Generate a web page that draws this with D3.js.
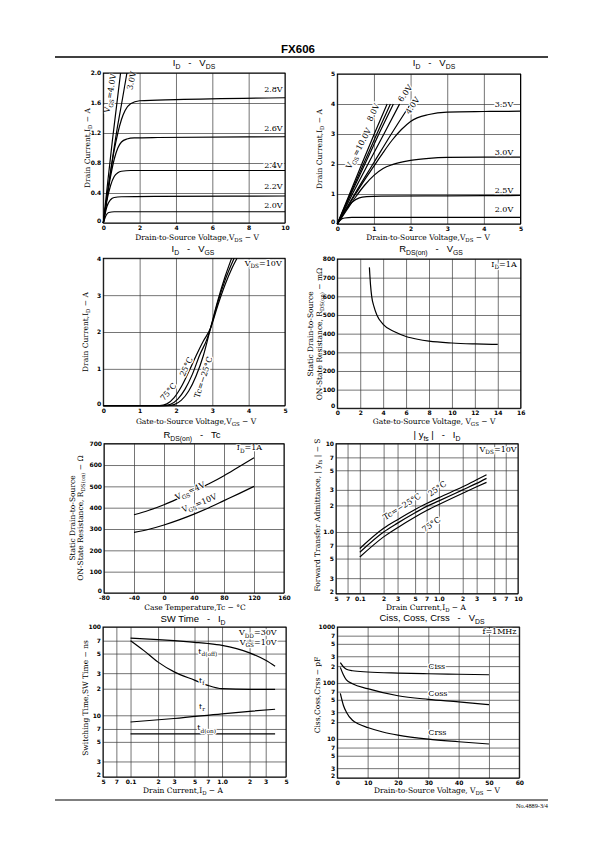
<!DOCTYPE html>
<html><head><meta charset="utf-8">
<script src="https://cdn.jsdelivr.net/npm/d3@7"></script>
<style>
body{margin:0;background:#fff;}
svg{display:block;}
.tk{font-family:"DejaVu Sans",sans-serif;font-weight:bold;font-size:6px;}
.ax{font-family:"DejaVu Serif",serif;font-size:7.5px;}
.ttl{font-family:"Liberation Sans",Arial,sans-serif;font-size:9.5px;}
.lbl{font-family:"DejaVu Serif",serif;font-size:8px;}
</style></head><body>
<svg id="page" width="595" height="842"></svg>
<script>
// ================= DATA =================
// Chart 1: ID - VDS (0-10 V)
const c1Vgs20 = [[0,0],[0.15,0.1],[0.3,0.14],[0.6,0.15],[10,0.15]];
const c1Vgs22 = [[0,0],[0.2,0.22],[0.4,0.31],[0.6,0.34],[1.0,0.35],[3,0.355],[10,0.36]];
const c1Vgs24 = [[0,0],[0.2,0.3],[0.4,0.5],[0.6,0.62],[0.8,0.67],[1.0,0.69],[1.5,0.7],[10,0.7]];
const c1Vgs26 = [[0,0],[0.2,0.33],[0.4,0.62],[0.6,0.85],[0.8,1.0],[1.0,1.08],[1.3,1.12],[1.7,1.135],[3,1.14],[10,1.15]];
const c1Vgs28 = [[0,0],[0.2,0.35],[0.4,0.68],[0.6,0.97],[0.8,1.2],[1.0,1.38],[1.2,1.5],[1.5,1.59],[2.0,1.63],[4,1.645],[10,1.67]];
const c1Vgs30 = [[0,0],[0.25,0.43],[0.5,0.85],[0.75,1.24],[1.0,1.58],[1.3,2.0]];
const c1Vgs40 = [[0,0],[0.25,0.56],[0.5,1.1],[0.75,1.6],[0.95,2.0]];
const c1XTicks = [0,2,4,6,8,10];
const c1XLabels = ["0","2","4","6","8","10"];
const c1YTicks = [0,0.4,0.8,1.2,1.6,2.0];
const c1YLabels = ["0","0.4","0.8","1.2","1.6","2.0"];

// Chart 2: ID - VDS (0-5 V)
const c2Vgs20 = [[0,0],[0.1,0.15],[0.2,0.2],[0.4,0.22],[5,0.22]];
const c2Vgs25 = [[0,0],[0.2,0.42],[0.4,0.72],[0.6,0.87],[0.8,0.91],[1.2,0.93],[3,0.94],[5,0.95]];
const c2Vgs30 = [[0,0],[0.25,0.45],[0.5,0.9],[0.75,1.3],[1.0,1.62],[1.25,1.85],[1.5,1.98],[2,2.12],[2.5,2.19],[3,2.22],[4,2.23],[5,2.23]];
const c2Vgs35 = [[0,0],[0.25,0.5],[0.5,1.0],[0.75,1.48],[1.0,1.93],[1.25,2.38],[1.5,2.8],[1.75,3.15],[2.0,3.42],[2.5,3.65],[3,3.73],[4,3.75],[5,3.76]];
const c2Vgs40 = [[0,0],[0.5,1.05],[1.0,2.05],[1.5,3.05],[2.0,4.0]];
const c2Vgs60 = [[0,0],[0.43,1.04],[0.86,2.05],[1.29,3.04],[1.70,4.0]];
const c2Vgs80 = [[0,0],[0.38,1.02],[0.77,2.04],[1.15,3.04],[1.53,4.0]];
const c2Vgs90 = [[0,0],[0.36,1.02],[0.73,2.04],[1.09,3.03],[1.45,4.0]];
const c2Vgs100 = [[0,0],[0.34,1.02],[0.68,2.03],[1.02,3.03],[1.36,4.0]];
const c2XTicks = [0,1,2,3,4,5];
const c2XLabels = ["0","1","2","3","4","5"];
const c2YTicks = [0,1,2,3,4,5];
const c2YLabels = ["0","1","2","3","4","5"];

// Chart 3: ID - VGS
const c3Tc75 = [[0,0],[1.55,0],[1.75,0.05],[1.95,0.22],[2.15,0.52],[2.35,0.92],[2.55,1.35],[2.75,1.75],[2.95,2.1],[3.15,2.72],[3.35,3.28],[3.55,3.75],[3.68,4.0]];
const c3Tc25 = [[0,0],[1.65,0],[1.85,0.04],[2.05,0.18],[2.25,0.45],[2.45,0.85],[2.65,1.37],[2.85,1.8],[2.95,2.1],[3.15,2.8],[3.35,3.4],[3.6,4.0]];
const c3TcM25 = [[0,0],[1.75,0],[1.95,0.03],[2.15,0.15],[2.35,0.4],[2.55,0.8],[2.75,1.35],[2.95,2.1],[3.15,2.85],[3.35,3.5],[3.53,4.0]];
const c3XTicks = [0,1,2,3,4,5];
const c3XLabels = ["0","1","2","3","4","5"];
const c3YTicks = [0,1,2,3,4];
const c3YLabels = ["0","1","2","3","4"];

// Chart 4: RDS(on) - VGS
const c4Rds = [[2.8,755],[2.9,660],[3.0,600],[3.2,545],[3.45,500],[4,450],[5,410],[6,385],[7,370],[8,360],[10,350],[12,345],[14,342]];
const c4XTicks = [0,2,4,6,8,10,12,14,16];
const c4XLabels = ["0","2","4","6","8","10","12","14","16"];
const c4YTicks = [0,100,200,300,400,500,600,700,800];
const c4YLabels = ["0","100","200","300","400","500","600","700","800"];

// Chart 5: RDS(on) - Tc
const c5Vgs4 = [[-40,367],[-20,388],[0,414],[20,445],[40,478],[60,512],[80,550],[100,592],[120,634]];
const c5Vgs10 = [[-40,284],[-20,299],[0,319],[20,343],[40,370],[60,400],[80,433],[100,466],[120,500]];
const c5XTicks = [-80,-40,0,40,80,120,160];
const c5XLabels = ["-80","-40","0","40","80","120","160"];
const c5YTicks = [0,100,200,300,400,500,600,700];
const c5YLabels = ["0","100","200","300","400","500","600","700"];

// Chart 6: |yfs| - ID
const c6TcM25 = [[0.1,0.65],[0.2,1.1],[0.3,1.38],[0.5,1.8],[0.7,2.1],[1.0,2.45],[2.0,3.25],[3.0,3.9],[4.0,4.45]];
const c6Tc25 = [[0.1,0.59],[0.2,1.0],[0.3,1.26],[0.5,1.65],[0.7,1.95],[1.0,2.25],[2.0,3.0],[3.0,3.55],[4.0,4.05]];
const c6Tc75 = [[0.1,0.52],[0.2,0.88],[0.3,1.12],[0.5,1.48],[0.7,1.75],[1.0,2.05],[2.0,2.75],[3.0,3.25],[4.0,3.65]];
const c6XTicks = [0.05,0.07,0.1,0.2,0.3,0.5,0.7,1,2,3,5,7,10];
const c6XLabels = ["5","7","0.1","2","3","5","7","1.0","2","3","5","7","10"];
const c6YTicks = [0.2,0.3,0.5,0.7,1,2,3,5,7,10];
const c6YLabels = ["2","3","5","7","1.0","2","3","5","7","10"];

// Chart 7: SW Time - ID
const c7TdOff = [[0.1,75],[0.2,72],[0.3,70],[0.5,67],[0.7,65],[1.0,62],[2.0,51],[3.0,42],[3.8,36]];
const c7Tf = [[0.1,70],[0.14,54],[0.2,40],[0.3,31],[0.5,25],[0.7,21.8],[1.0,20],[2.0,19.7],[3.8,19.7]];
const c7Tr = [[0.1,8.4],[0.3,9.2],[1.0,10.4],[2.0,11.1],[3.8,11.7]];
const c7TdOn = [[0.1,6.15],[1.0,6.15],[3.8,6.15]];
const c7XTicks = [0.05,0.07,0.1,0.2,0.3,0.5,0.7,1,2,3,5];
const c7XLabels = ["5","7","0.1","2","3","5","7","1.0","2","3","5"];
const c7YTicks = [2,3,5,7,10,20,30,50,70,100];
const c7YLabels = ["2","3","5","7","10","2","3","5","7","100"];

// Chart 8: Ciss, Coss, Crss - VDS
const c8Ciss = [[1,230],[2,195],[3,176],[5,165],[10,157],[20,150],[30,146],[40,143],[50,140]];
const c8Coss = [[1,190],[2,140],[3,113],[5,97],[10,79],[20,59],[30,51],[40,46],[50,41]];
const c8Crss = [[1,65],[2,40],[3,30],[5,21.5],[7,18.5],[10,16],[15,13.3],[20,11.7],[30,9.9],[40,8.9],[50,8.1]];
const c8XTicks = [0,10,20,30,40,50,60];
const c8XLabels = ["0","10","20","30","40","50","60"];
const c8YTicks = [2,3,5,7,10,20,30,50,70,100,200,300,500,700,1000];
const c8YLabels = ["2","3","5","7","10","2","3","5","7","100","2","3","5","7","1000"];

// ================= DRAWING =================
const svg = d3.select('#page');
const NB = '\u00a0';
const SEP = NB+NB+NB+'-'+NB+NB+NB;

function rich(t, str, fs) {
  const parts = str.split(/(_\{[^}]*\})/).filter(p => p.length);
  let sh = 0;
  parts.forEach(p => {
    const m = p.match(/^_\{([^}]*)\}$/);
    if (m) { t.append('tspan').attr('dy', fs*0.3 - sh).attr('font-size', fs*0.72).text(m[1]); sh = fs*0.3; }
    else { t.append('tspan').attr('dy', -sh).text(p); sh = 0; }
  });
  return t;
}

function buildChart(o) {
  const g = svg.append('g');
  const x = (o.xLog ? d3.scaleLog() : d3.scaleLinear()).domain(o.xDomain).range([o.left, o.right]);
  const y = (o.yLog ? d3.scaleLog() : d3.scaleLinear()).domain(o.yDomain).range([o.bottom, o.top]);
  const h = o.bottom - o.top, w = o.right - o.left;
  const gx = g.append('g').attr('transform', `translate(0,${o.bottom})`)
    .call(d3.axisBottom(x).tickValues(o.xGrid).tickSize(-h).tickFormat(''));
  const gy = g.append('g').attr('transform', `translate(${o.left},0)`)
    .call(d3.axisLeft(y).tickValues(o.yGrid).tickSize(-w).tickFormat(''));
  [gx, gy].forEach(s => { s.select('.domain').remove(); s.selectAll('line').attr('stroke', '#3a3a3a').attr('stroke-width', 0.7); });
  const lx = g.append('g').attr('transform', `translate(0,${o.bottom})`)
    .call(d3.axisBottom(x).tickValues(o.xTicks).tickFormat(d => o.xTickLabels[o.xTicks.indexOf(d)]).tickSize(0).tickPadding(2.6));
  const ly = g.append('g').attr('transform', `translate(${o.left},0)`)
    .call(d3.axisLeft(y).tickValues(o.yTicks).tickFormat(d => o.yTickLabels[o.yTicks.indexOf(d)]).tickSize(0).tickPadding(2));
  [lx, ly].forEach(s => { s.select('.domain').remove(); s.attr('font-size', null).attr('font-family', null).attr('class', 'tk'); s.selectAll('text').attr('fill', '#000'); });
  // lift the lowest y label a little off the x labels (as in the reference)
  ly.selectAll('text').filter(d => d === o.yTicks[0]).attr('dy', '-0.1em');

  const line = d3.line().x(d => x(d[0])).y(d => y(d[1])).curve(d3.curveMonotoneX);
  o.series.forEach(s => g.append('path').attr('d', line(s)).attr('fill', 'none')
    .attr('stroke', '#000').attr('stroke-width', o.sw || 1.2).attr('stroke-linejoin', 'round'));

  rich(g.append('text').attr('class', 'ttl').attr('x', o.titleX).attr('y', o.titleY).attr('text-anchor', 'middle'), o.title, 9.5);
  rich(g.append('text').attr('class', 'ax').attr('x', o.xTitleX).attr('y', o.xTitleY).attr('text-anchor', 'middle'), o.xTitle, 7.5);
  o.yTitle.forEach((s, i) => {
    const t = g.append('text').attr('class', 'ax').attr('text-anchor', 'middle')
      .attr('transform', `translate(${o.yTitleX[i]},${o.yTitleY}) rotate(-90)`);
    rich(t, s, 7.5);
  });
  (o.labels || []).forEach(L => {
    const t = g.append('text').attr('class', 'lbl')
      .attr('transform', `translate(${x(L.x)},${y(L.y)}) rotate(${L.rot || 0})`)
      .attr('y', L.rot ? 2.8 : 0)
      .attr('text-anchor', L.anchor || 'middle');
    if (L.halo) t.attr('stroke', '#fff').attr('stroke-width', 2.6).attr('paint-order', 'stroke').attr('stroke-linejoin', 'round');
    rich(t, L.text, 8);
  });
  // frame on top
  g.append('rect').attr('x', o.left).attr('y', o.top).attr('width', w).attr('height', h)
    .attr('fill', 'none').attr('stroke', '#000').attr('stroke-width', 1);
  return { g, x, y };
}

// header & footer
svg.append('text').attr('x', 298).attr('y', 53).attr('text-anchor', 'middle')
  .attr('font-family', '"Liberation Sans",Arial,sans-serif').attr('font-weight', 'bold').attr('font-size', 11.5).text('FX606');
svg.append('line').attr('x1', 55).attr('x2', 548).attr('y1', 57).attr('y2', 57).attr('stroke', '#000').attr('stroke-width', 1.4);
svg.append('line').attr('x1', 55).attr('x2', 548).attr('y1', 800).attr('y2', 800).attr('stroke', '#000').attr('stroke-width', 1.2);
svg.append('text').attr('x', 548).attr('y', 807.5).attr('text-anchor', 'end')
  .attr('font-family', '"Liberation Serif",serif').attr('font-size', 6.3).text('No.4889-3/4');

// Chart 1
buildChart({
  left: 103.3, right: 285, top: 73, bottom: 223,
  xDomain: [0, 10], yDomain: [0, 2],
  xGrid: c1XTicks, yGrid: c1YTicks,
  xTicks: c1XTicks, xTickLabels: c1XLabels, yTicks: c1YTicks, yTickLabels: c1YLabels,
  series: [c1Vgs20, c1Vgs22, c1Vgs24, c1Vgs26, c1Vgs28, c1Vgs30, c1Vgs40],
  title: 'I_{D}' + SEP + 'V_{DS}', titleX: 194, titleY: 66,
  xTitle: 'Drain-to-Source Voltage,V_{DS} − V', xTitleX: 197, xTitleY: 240,
  yTitle: ['Drain Current,I_{D} − A'], yTitleX: [90], yTitleY: 148,
  labels: [
    { x: 0.37, y: 1.73, text: 'V_{GS}=4.0V', rot: -80, halo: true },
    { x: 1.55, y: 1.9, text: '3.0V', rot: -78, halo: true },
    { x: 9.87, y: 1.75, text: '2.8V', anchor: 'end', halo: true },
    { x: 9.87, y: 1.23, text: '2.6V', anchor: 'end', halo: true },
    { x: 9.87, y: 0.74, text: '2.4V', anchor: 'end', halo: true },
    { x: 9.87, y: 0.45, text: '2.2V', anchor: 'end', halo: true },
    { x: 9.87, y: 0.205, text: '2.0V', anchor: 'end', halo: true }
  ]
});

// Chart 2
buildChart({
  left: 337.3, right: 520.5, top: 74, bottom: 224,
  xDomain: [0, 5], yDomain: [0, 5],
  xGrid: c2XTicks, yGrid: c2YTicks,
  xTicks: c2XTicks, xTickLabels: c2XLabels, yTicks: c2YTicks, yTickLabels: c2YLabels,
  series: [c2Vgs20, c2Vgs25, c2Vgs30, c2Vgs35, c2Vgs40, c2Vgs60, c2Vgs80, c2Vgs90, c2Vgs100],
  title: 'I_{D}' + SEP + 'V_{DS}', titleX: 434, titleY: 66,
  xTitle: 'Drain-to-Source Voltage,V_{DS} − V', xTitleX: 428, xTitleY: 240,
  yTitle: ['Drain Current,I_{D} − A'], yTitleX: [321.5], yTitleY: 149,
  labels: [
    { x: 0.58, y: 2.52, text: 'V_{GS}=10.0V', rot: -62, halo: true },
    { x: 0.98, y: 3.72, text: '8.0V', rot: -65, halo: true },
    { x: 1.85, y: 4.36, text: '6.0V', rot: -55, halo: true },
    { x: 2.05, y: 3.95, text: '4.0V', rot: -55, halo: true },
    { x: 4.8, y: 3.91, text: '3.5V', anchor: 'end', halo: true },
    { x: 4.8, y: 2.3, text: '3.0V', anchor: 'end', halo: true },
    { x: 4.8, y: 1.02, text: '2.5V', anchor: 'end', halo: true },
    { x: 4.8, y: 0.41, text: '2.0V', anchor: 'end', halo: true }
  ]
});

// Chart 3
buildChart({
  left: 103.3, right: 285, top: 258.3, bottom: 405.7,
  xDomain: [0, 5], yDomain: [0, 4],
  xGrid: c3XTicks, yGrid: c3YTicks,
  xTicks: c3XTicks, xTickLabels: c3XLabels, yTicks: c3YTicks, yTickLabels: c3YLabels,
  series: [c3Tc75, c3Tc25, c3TcM25],
  title: 'I_{D}' + SEP + 'V_{GS}', titleX: 193, titleY: 252,
  xTitle: 'Gate-to-Source Voltage,V_{GS} − V', xTitleX: 196, xTitleY: 424,
  yTitle: ['Drain Current,I_{D} − A'], yTitleX: [87.5], yTitleY: 332,
  labels: [
    { x: 4.91, y: 3.79, text: 'V_{DS}=10V', anchor: 'end', halo: true },
    { x: 1.79, y: 0.38, text: '75°C', rot: -50, halo: true },
    { x: 2.28, y: 1.06, text: '25°C', rot: -65, halo: true },
    { x: 2.75, y: 0.77, text: 'Tc=−25°C', rot: -72, halo: true }
  ]
});

// Chart 4
buildChart({
  left: 337.3, right: 520.7, top: 259, bottom: 408.3,
  xDomain: [0, 16], yDomain: [0, 800],
  xGrid: c4XTicks, yGrid: c4YTicks,
  xTicks: c4XTicks, xTickLabels: c4XLabels, yTicks: c4YTicks, yTickLabels: c4YLabels,
  series: [c4Rds],
  title: 'R_{DS(on)}' + SEP + 'V_{GS}', titleX: 431, titleY: 252,
  xTitle: 'Gate-to-Source Voltage, V_{GS} − V', xTitleX: 434, xTitleY: 424,
  yTitle: ['Static Drain-to-Source', 'ON-State Resistance, R_{DS(on)} − mΩ'], yTitleX: [312.5, 321.5], yTitleY: 334,
  labels: [
    { x: 15.65, y: 757, text: 'I_{D}=1A', anchor: 'end', halo: true }
  ]
});

// Chart 5
buildChart({
  left: 104, right: 284, top: 443.7, bottom: 593,
  xDomain: [-80, 160], yDomain: [0, 700],
  xGrid: c5XTicks, yGrid: c5YTicks,
  xTicks: c5XTicks, xTickLabels: c5XLabels, yTicks: c5YTicks, yTickLabels: c5YLabels,
  series: [c5Vgs4, c5Vgs10],
  title: 'R_{DS(on)}' + SEP + 'Tc', titleX: 192, titleY: 438,
  xTitle: 'Case Temperature,Tc − °C', xTitleX: 195, xTitleY: 610,
  yTitle: ['Static Drain-to-Source', 'ON-State Resistance, R_{DS(on)} − Ω'], yTitleX: [74.5, 82.5], yTitleY: 518,
  labels: [
    { x: 130.8, y: 670, text: 'I_{D}=1A', anchor: 'end', halo: true },
    { x: 34.7, y: 479, text: 'V_{GS}=4V', rot: -25, halo: true },
    { x: 47, y: 422, text: 'V_{GS}=10V', rot: -22, halo: true }
  ]
});

// Chart 6
buildChart({
  left: 336, right: 518, top: 443.7, bottom: 593.7,
  xLog: true, yLog: true,
  xDomain: [0.05, 10], yDomain: [0.2, 10],
  xGrid: c6XTicks, yGrid: c6YTicks,
  xTicks: c6XTicks, xTickLabels: c6XLabels, yTicks: c6YTicks, yTickLabels: c6YLabels,
  series: [c6TcM25, c6Tc25, c6Tc75],
  title: '| y_{fs} |' + SEP + 'I_{D}', titleX: 437, titleY: 438,
  xTitle: 'Drain Current,I_{D} − A', xTitleX: 426, xTitleY: 610,
  yTitle: ['Forward Transfer Admittance, | y_{fs} | − S'], yTitleX: [320], yTitleY: 515,
  labels: [
    { x: 9.6, y: 8.05, text: 'V_{DS}=10V', anchor: 'end', halo: true },
    { x: 0.34, y: 1.95, text: 'Tc=−25°C', rot: -32, halo: true },
    { x: 0.95, y: 3.1, text: '25°C', rot: -35, halo: true },
    { x: 0.8, y: 1.22, text: '75°C', rot: -35, halo: true }
  ]
});

// Chart 7
buildChart({
  left: 103, right: 286, top: 627, bottom: 777,
  xLog: true, yLog: true,
  xDomain: [0.05, 5], yDomain: [2, 100],
  xGrid: c7XTicks, yGrid: c7YTicks,
  xTicks: c7XTicks, xTickLabels: c7XLabels, yTicks: c7YTicks, yTickLabels: c7YLabels,
  series: [c7TdOff, c7Tf, c7Tr, c7TdOn],
  title: 'SW Time' + SEP + 'I_{D}', titleX: 193, titleY: 622,
  xTitle: 'Drain Current,I_{D} − A', xTitleX: 183, xTitleY: 793,
  yTitle: ['Switching Time,SW Time − ns'], yTitleX: [87.5], yTitleY: 698,
  labels: [
    { x: 3.95, y: 80.5, text: 'V_{DD}=30V', anchor: 'end', halo: true },
    { x: 3.95, y: 63, text: 'V_{GS}=10V', anchor: 'end', halo: true },
    { x: 0.551, y: 49.8, text: 't_{d(off)}', anchor: 'start', halo: true },
    { x: 0.56, y: 23.4, text: 't_{f}', anchor: 'start', halo: true },
    { x: 0.56, y: 11.9, text: 't_{r}', anchor: 'start', halo: true },
    { x: 0.537, y: 6.76, text: 't_{d(on)}', anchor: 'start', halo: true }
  ]
});

// Chart 8
buildChart({
  left: 337.3, right: 519.3, top: 627, bottom: 778,
  yLog: true,
  xDomain: [0, 60], yDomain: [2, 1000],
  xGrid: c8XTicks, yGrid: c8YTicks,
  xTicks: c8XTicks, xTickLabels: c8XLabels, yTicks: c8YTicks, yTickLabels: c8YLabels,
  series: [c8Ciss, c8Coss, c8Crss],
  title: 'Ciss, Coss, Crss' + SEP + 'V_{DS}', titleX: 432, titleY: 621,
  xTitle: 'Drain-to-Source Voltage, V_{DS} − V', xTitleX: 437, xTitleY: 793,
  yTitle: ['Ciss,Coss,Crss − pF'], yTitleX: [319.5], yTitleY: 695,
  labels: [
    { x: 59.1, y: 740, text: 'f=1MHz', anchor: 'end', halo: true },
    { x: 30, y: 180, text: 'Ciss', anchor: 'start', halo: true },
    { x: 30, y: 57.8, text: 'Coss', anchor: 'start', halo: true },
    { x: 30, y: 11.6, text: 'Crss', anchor: 'start', halo: true }
  ]
});
</script>
</body></html>
